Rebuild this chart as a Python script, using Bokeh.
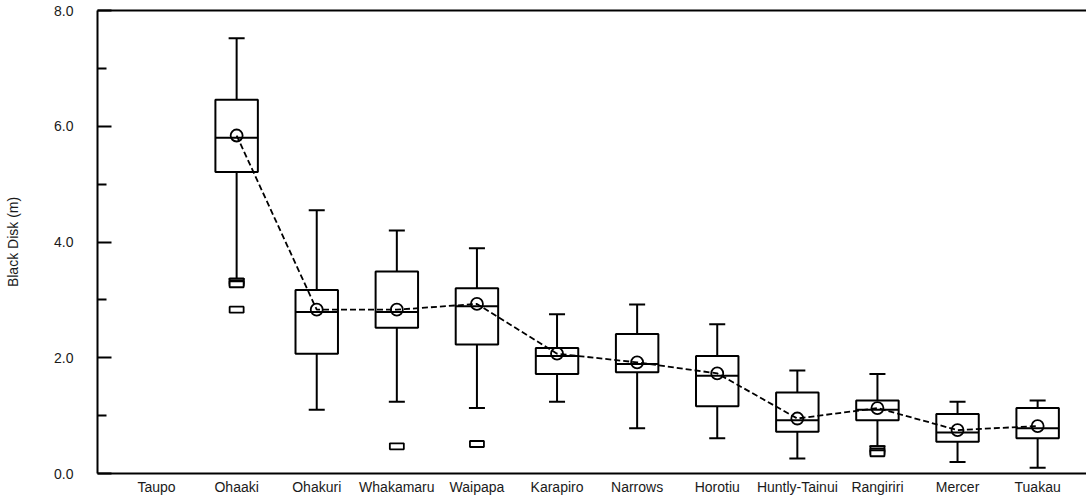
from bokeh.plotting import figure
from bokeh.models import Range1d, FixedTicker, LinearAxis, PrintfTickFormatter, ColumnDataSource
from bokeh.embed import file_html
from bokeh.resources import INLINE

categories = ["Taupo", "Ohaaki", "Ohakuri", "Whakamaru", "Waipapa", "Karapiro",
              "Narrows", "Horotiu", "Huntly-Tainui", "Rangiriri", "Mercer", "Tuakau"]

# sites with data (Taupo has none)
sites = ["Ohaaki", "Ohakuri", "Whakamaru", "Waipapa", "Karapiro",
         "Narrows", "Horotiu", "Huntly-Tainui", "Rangiriri", "Mercer", "Tuakau"]
whisker_low = [3.36, 1.10, 1.24, 1.13, 1.24, 0.78, 0.61, 0.26, 0.47, 0.20, 0.10]
q1 = [5.21, 2.07, 2.52, 2.23, 1.72, 1.75, 1.16, 0.72, 0.92, 0.55, 0.61]
median = [5.80, 2.79, 2.79, 2.89, 2.03, 1.89, 1.69, 0.92, 1.10, 0.71, 0.78]
q3 = [6.46, 3.17, 3.49, 3.20, 2.17, 2.41, 2.03, 1.40, 1.26, 1.03, 1.13]
whisker_high = [7.52, 4.55, 4.20, 3.89, 2.75, 2.92, 2.58, 1.78, 1.72, 1.24, 1.26]
means = [5.84, 2.83, 2.83, 2.93, 2.07, 1.92, 1.73, 0.95, 1.13, 0.75, 0.82]

outlier_sites = ["Ohaaki", "Ohaaki", "Ohaaki", "Ohaaki", "Whakamaru", "Waipapa",
                 "Rangiriri", "Rangiriri", "Rangiriri"]
outlier_values = [3.32, 3.29, 3.27, 2.83, 0.47, 0.51, 0.42, 0.38, 0.35]

yticks = [0, 2, 4, 6, 8]
yminor = [1, 3, 5, 7]

BOX_W = 0.53
CAP_W = 0.2

xs = [categories.index(s) for s in sites]
src = ColumnDataSource(dict(
    x=xs,
    x0=[x - BOX_W / 2 for x in xs],
    x1=[x + BOX_W / 2 for x in xs],
    c0=[x - CAP_W / 2 for x in xs],
    c1=[x + CAP_W / 2 for x in xs],
    lo=whisker_low, q1=q1, med=median, q3=q3, hi=whisker_high, mean=means,
))
osrc = ColumnDataSource(dict(
    x=[categories.index(s) for s in outlier_sites], y=outlier_values))

p = figure(width=1086, height=497, output_backend="svg", toolbar_location=None,
           x_range=Range1d(-0.737, 11.61), y_range=Range1d(0, 8),
           min_border_left=97, min_border_right=0, min_border_top=10, min_border_bottom=23)
p.outline_line_color = None
p.grid.visible = False
p.xaxis.visible = False
p.yaxis.visible = False
p.background_fill_color = "white"
p.border_fill_color = "white"

FONT = "Liberation Sans"
TXT = "#1a1a1a"

yaxis = LinearAxis(ticker=FixedTicker(ticks=yticks, minor_ticks=yminor),
                   formatter=PrintfTickFormatter(format="%.1f"),
                   axis_label="Black Disk (m)")
yaxis.axis_line_width = 2
yaxis.major_tick_in = 14
yaxis.major_tick_out = 0
yaxis.minor_tick_in = 9
yaxis.minor_tick_out = 0
yaxis.major_tick_line_width = 2
yaxis.minor_tick_line_width = 2
yaxis.major_label_standoff = 24
yaxis.major_label_text_font = FONT
yaxis.major_label_text_font_size = "14px"
yaxis.major_label_text_color = TXT
yaxis.axis_label_text_font = FONT
yaxis.axis_label_text_font_size = "14px"
yaxis.axis_label_text_font_style = "normal"
yaxis.axis_label_text_color = TXT
yaxis.axis_label_standoff = 30
p.add_layout(yaxis, "left")

xaxis = LinearAxis(ticker=FixedTicker(ticks=list(range(len(categories))), minor_ticks=[]),
                   major_label_overrides={i: c for i, c in enumerate(categories)})
xaxis.axis_line_width = 2
xaxis.major_tick_in = 0
xaxis.major_tick_out = 0
xaxis.minor_tick_in = 0
xaxis.minor_tick_out = 0
xaxis.major_label_standoff = 5
xaxis.major_label_text_font = FONT
xaxis.major_label_text_font_size = "14px"
xaxis.major_label_text_color = TXT
p.add_layout(xaxis, "below")

top = LinearAxis(ticker=FixedTicker(ticks=[], minor_ticks=[]))
top.axis_line_width = 2
top.major_tick_in = 0
top.major_tick_out = 0
top.minor_tick_in = 0
top.minor_tick_out = 0
p.add_layout(top, "above")

LW = 2
# whiskers
p.segment(x0="x", y0="q3", x1="x", y1="hi", source=src, line_color="black", line_width=LW)
p.segment(x0="x", y0="lo", x1="x", y1="q1", source=src, line_color="black", line_width=LW)
p.segment(x0="c0", y0="hi", x1="c1", y1="hi", source=src, line_color="black", line_width=LW)
p.segment(x0="c0", y0="lo", x1="c1", y1="lo", source=src, line_color="black", line_width=LW)
# boxes
p.quad(left="x0", right="x1", bottom="q1", top="q3", source=src,
       fill_color=None, line_color="black", line_width=LW)
p.segment(x0="x0", y0="med", x1="x1", y1="med", source=src, line_color="black", line_width=LW)
# mean line and markers
p.line(x="x", y="mean", source=src, line_color="black", line_width=1.8, line_dash="6 3")
p.scatter(x="x", y="mean", source=src, marker="circle", size=12,
          fill_color=None, line_color="black", line_width=1.8)
# outliers
p.rect(x="x", y="y", width=14, height=6, width_units="screen", height_units="screen",
       source=osrc, fill_color="white", line_color="black", line_width=1.8)

open("out.html", "w").write(file_html(p, INLINE))
